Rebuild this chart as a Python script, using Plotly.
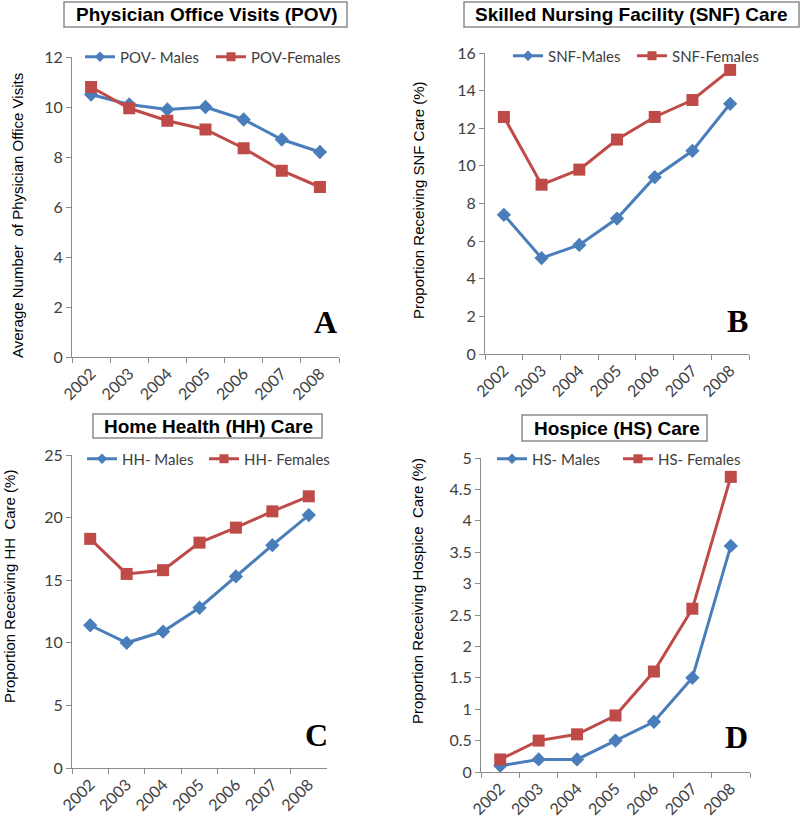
import plotly.graph_objects as go

# ---------------- data ----------------
years = ["2002", "2003", "2004", "2005", "2006", "2007", "2008"]

pov_males = [10.5, 10.1, 9.9, 10.0, 9.5, 8.7, 8.2]
pov_females = [10.8, 9.95, 9.45, 9.1, 8.35, 7.45, 6.8]

snf_males = [7.4, 5.1, 5.8, 7.2, 9.4, 10.8, 13.3]
snf_females = [12.6, 9.0, 9.8, 11.4, 12.6, 13.5, 15.1]

hh_males = [11.4, 10.0, 10.9, 12.8, 15.3, 17.8, 20.2]
hh_females = [18.3, 15.5, 15.8, 18.0, 19.2, 20.5, 21.7]

hs_males = [0.1, 0.2, 0.2, 0.5, 0.8, 1.5, 3.6]
hs_females = [0.2, 0.5, 0.6, 0.9, 1.6, 2.6, 4.7]

series_names = [
    ("POV- Males", "POV-Females"),
    ("SNF-Males", "SNF-Females"),
    ("HH- Males", "HH- Females"),
    ("HS- Males", "HS- Females"),
]
panel_titles = [
    "Physician Office Visits (POV)",
    "Skilled Nursing Facility (SNF) Care",
    "Home Health (HH) Care",
    "Hospice (HS) Care",
]
y_titles = [
    "Average Number  of Physician Office Visits",
    "Proportion Receiving SNF Care (%)",
    "Proportion Receiving HH  Care (%)",
    "Proportion Receiving Hospice  Care (%)",
]
letters = ["A", "B", "C", "D"]
y_ranges = [(0, 12), (0, 16), (0, 25), (0, 5)]
y_dticks = [2, 2, 5, 0.5]
data = [
    (pov_males, pov_females),
    (snf_males, snf_females),
    (hh_males, hh_females),
    (hs_males, hs_females),
]

# ---------------- layout geometry (pixels) ----------------
W, H = 800, 818
def fx(x):
    return x / W
def fy(y):
    return 1 - y / H

# plot area: x0, x1, ytop, ybottom
plot_px = [
    (72, 339, 57, 357),
    (485, 749, 53, 354),
    (72, 327, 455, 768),
    (481, 750, 458, 772),
]
# title box: x0, x1, y0, y1, text start x
box_px = [
    (64, 347, 2, 27, 74),
    (464, 799, 2, 27, 473),
    (93, 322, 414, 438, 102),
    (522, 707, 415, 441, 532),
]
# legend: y, male line start x, female line start x
legend_px = [
    (57, 85, 216),
    (56, 513, 637),
    (459, 87, 209),
    (459, 497, 623),
]
# letter centers
letter_px = [(325, 322), (737, 321), (316, 735), (736, 737)]
# y title centers
ytitle_px = [(17, 216), (418, 200), (9, 587), (417, 591)]

BLUE = "#4A7EBB"
RED = "#BE4B48"
AXIS = "#8C8C8C"
YTICKFONT = dict(family="Lato", size=16, color="#404040")
XTICKFONT = dict(family="Lato", size=16, color="#404040")

fig = go.Figure()
layout = dict(
    width=W, height=H,
    margin=dict(l=0, r=0, t=0, b=0, autoexpand=False),
    paper_bgcolor="white", plot_bgcolor="white",
    showlegend=True,
    shapes=[], annotations=[],
)

for i in range(4):
    sfx = "" if i == 0 else str(i + 1)
    xa = "x" + sfx
    ya = "y" + sfx
    x0, x1, yt, yb = plot_px[i]
    males, females = data[i]
    mname, fname = series_names[i]
    lg_m = "legend" if i == 0 else "legend" + str(2 * i + 1)
    lg_f = "legend" + str(2 * i + 2)
    # data traces
    fig.add_trace(go.Scatter(
        x=years, y=males, name=mname, xaxis=xa, yaxis=ya,
        mode="lines+markers", showlegend=False,
        line=dict(color=BLUE, width=3),
        marker=dict(symbol="diamond", size=11, color=BLUE),
    ))
    fig.add_trace(go.Scatter(
        x=years, y=females, name=fname, xaxis=xa, yaxis=ya,
        mode="lines+markers", showlegend=False,
        line=dict(color=RED, width=3),
        marker=dict(symbol="square", size=12, color=RED),
    ))
    # legend entries (smaller markers as in reference legend)
    fig.add_trace(go.Scatter(
        x=[None], y=[None], name=mname, xaxis=xa, yaxis=ya,
        mode="lines+markers", legend=lg_m,
        line=dict(color=BLUE, width=3),
        marker=dict(symbol="diamond", size=8, color=BLUE),
    ))
    fig.add_trace(go.Scatter(
        x=[None], y=[None], name=fname, xaxis=xa, yaxis=ya,
        mode="lines+markers", legend=lg_f,
        line=dict(color=RED, width=3),
        marker=dict(symbol="square", size=9, color=RED),
    ))
    layout["xaxis" + sfx] = dict(
        domain=[fx(x0), fx(x1)], anchor=ya, type="category",
        tickson="boundaries", ticks="outside", ticklen=5, tickcolor=AXIS,
        showline=True, linecolor=AXIS, linewidth=1, showgrid=False,
        zeroline=False, tickangle=-45, tickfont=XTICKFONT,
        range=[-0.5, 6.5], fixedrange=True, automargin=False,
    )
    layout["yaxis" + sfx] = dict(
        domain=[fy(yb), fy(yt)], anchor=xa, range=list(y_ranges[i]),
        dtick=y_dticks[i], ticks="outside", ticklen=5, tickcolor=AXIS,
        showline=True, linecolor=AXIS, linewidth=1, showgrid=False,
        zeroline=False, tickfont=YTICKFONT, automargin=False,
        fixedrange=True,
    )
    ly, lmx, lfx = legend_px[i]
    for key, lx in ((lg_m, lmx), (lg_f, lfx)):
        layout[key] = dict(
            x=fx(lx - 5), y=fy(ly), xanchor="left", yanchor="middle",
            xref="container", yref="container",
            orientation="h", bgcolor="rgba(0,0,0,0)", borderwidth=0,
            font=dict(family="Lato", size=15, color="#404040"),
            itemclick=False, itemdoubleclick=False,
        )
    bx0, bx1, by0, by1, tx = box_px[i]
    layout["shapes"].append(dict(
        type="rect", xref="paper", yref="paper",
        x0=fx(bx0), x1=fx(bx1), y0=fy(by1), y1=fy(by0),
        line=dict(color=AXIS, width=1.5), fillcolor="white", layer="below",
    ))
    layout["annotations"].append(dict(
        text="<b>" + panel_titles[i] + "</b>", xref="paper", yref="paper",
        x=fx(tx), y=fy((by0 + by1) / 2), xanchor="left", yanchor="middle",
        showarrow=False,
        font=dict(family="Liberation Sans", size=19, color="black"),
    ))
    lx_, ly_ = letter_px[i]
    layout["annotations"].append(dict(
        text="<b>" + letters[i] + "</b>", xref="paper", yref="paper",
        x=fx(lx_), y=fy(ly_), xanchor="center", yanchor="middle",
        showarrow=False,
        font=dict(family="Liberation Serif", size=32, color="black"),
    ))
    tx_, ty_ = ytitle_px[i]
    layout["annotations"].append(dict(
        text=y_titles[i], xref="paper", yref="paper",
        x=fx(tx_), y=fy(ty_), xanchor="center", yanchor="middle",
        textangle=-90, showarrow=False,
        font=dict(family="Liberation Sans", size=15, color="black"),
    ))

fig.update_layout(**layout)
fig.write_html(
    "out.html",
    config={"displayModeBar": False},
    post_script="document.body.style.margin='0px';document.body.style.overflow='hidden';",
)
